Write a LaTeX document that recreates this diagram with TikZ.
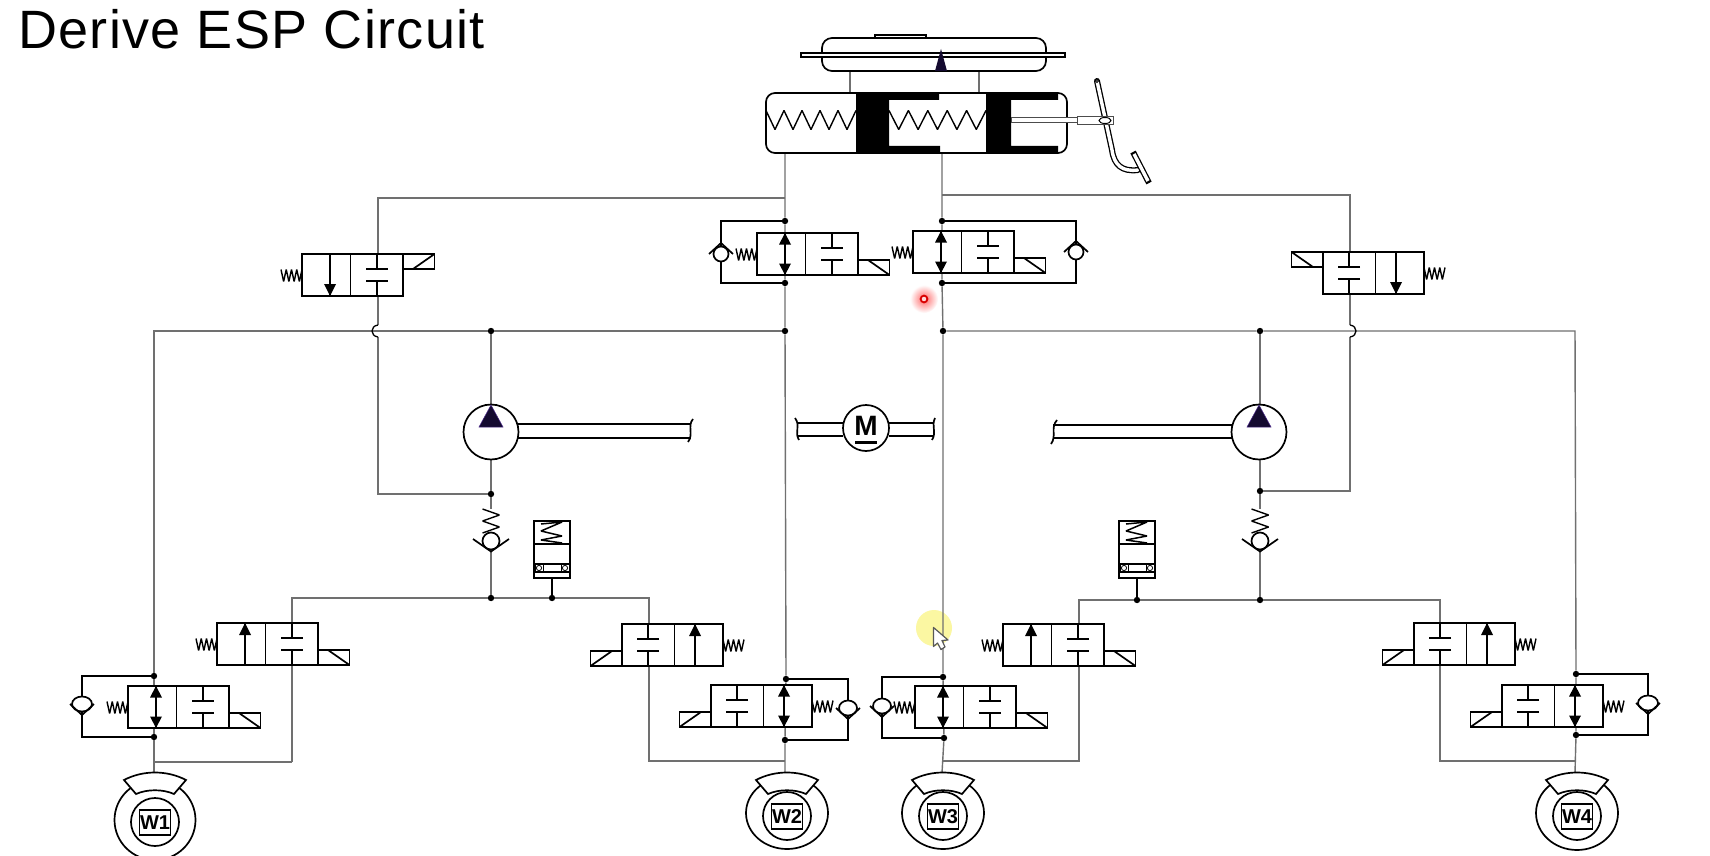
\documentclass[tikz,border=0pt]{standalone}
\usepackage{fontspec}
\setmainfont{Liberation Sans}
\newfontfamily\titlefont[LetterSpace=2.4]{Liberation Sans}
\definecolor{pipegrey}{HTML}{707070}
\definecolor{tipdark}{HTML}{140A30}
\definecolor{tipedge}{HTML}{4B2A8A}
\definecolor{hiyellow}{HTML}{FBF7A2}
\tikzset{
  pipe/.style={draw=pipegrey,line width=1.4pt},
  sym/.style={draw=black,line width=1.7pt,line join=miter},
  symfill/.style={sym,fill=white},
  coil/.style={draw=black,line width=1.4pt,line join=bevel},
  dot/.style={circle,fill=black,draw=none,inner sep=0pt,minimum size=6.4pt},
  wlabel/.style={font=\bfseries\fontsize{20}{20}\selectfont,inner sep=0pt},
}
% zigzag along x, from #1 to #2 in #3 segments, centre #4, amplitude #5
\newcommand{\zigx}[5]{\draw[coil] ({#1},{(#4)-(#5)})
  \foreach \i in {1,...,#3}{ -- ({(#1)+\i*((#2)-(#1))/#3},{(#4)-(#5)*pow(-1,\i)}) };}
% zigzag along y, from #1 to #2 in #3 segments, centre #4, amplitude #5
\newcommand{\zigy}[5]{\draw[coil] ({(#4)-(#5)},{#1})
  \foreach \i in {1,...,#3}{ -- ({(#4)-(#5)*pow(-1,\i)},{(#1)+\i*((#2)-(#1))/#3}) };}
% valve: #1 x, #2 y (spring-side top corner), #3 side (+1/-1), #4 arrow 0 down 1 up 2 both, #5 solenoid y offset
\newcommand{\valve}[5]{%
\begin{scope}[shift={(#1,#2)},xscale=#3]
  \draw[symfill] (0,0) rectangle (101,42);
  \draw[sym] (48.5,0) -- (48.5,42);
  \draw[sym] (75,0) -- (75,15) (64,15) -- (86,15) (64,27) -- (86,27) (75,27) -- (75,42);
  \draw[sym] (28,0) -- (28,42);
  \ifcase#4\relax
    \fill[black] (28,42) -- (22,30) -- (34,30) -- cycle;
  \or
    \fill[black] (28,0) -- (22,12) -- (34,12) -- cycle;
  \else
    \fill[black] (28,42) -- (22,30.5) -- (34,30.5) -- cycle;
    \fill[black] (28,0) -- (22,11.5) -- (34,11.5) -- cycle;
  \fi
  \draw[symfill] (101,#5) rectangle (132.5,#5+15);
  \ifnum#5=0
    \draw[sym] (111,15) -- (132.5,0);
  \else
    \draw[sym] (111,#5) -- (132.5,#5+15);
  \fi
  \zigx{0}{-21}{8}{21.5}{6}
\end{scope}}
% check valve across a vertical pipe: #1 x, #2 y, #3 -1 wings above, +1 wings below, #4 half width
\newcommand{\chk}[4]{%
  \draw[symfill] (#1,#2) ellipse ({#4} and 7.5);
  \draw[sym] (#1-12,#2) -- (#1,#2+#3*11) -- (#1+12,#2);}
% spring loaded check valve
\newcommand{\spchk}[2]{%
  \zigy{#2-32}{#2-8}{4}{#1}{8.5}
  \draw[sym,draw=black,fill=white] (#1,#2) circle (8.5);
  \draw[sym] (#1-18,#2-2) -- (#1,#2+10.5) -- (#1+18,#2-2);}
% accumulator
\newcommand{\accum}[2]{%
\begin{scope}[shift={(#1,#2)}]
  \draw[symfill] (0,0) rectangle (36,57);
  \draw[sym] (0,23) -- (36,23);
  \draw[sym] (0,43) -- (36,43) (0,51) -- (36,51);
  \draw[coil,line width=1.5pt] (7,3) -- (28,1) -- (7,10) -- (28,15) -- (7,19) -- (28,22);
  \draw[black,line width=.8pt] (5,47) circle (2.6) (31,47) circle (2.6);
  \draw[black,line width=.8pt] (1,43.5) rectangle (9,50.5) (27,43.5) rectangle (35,50.5);
\end{scope}}
% pump
\newcommand{\pump}[2]{%
  \draw[symfill] (#1,#2) circle (27.5);
  \fill[tipdark,draw=tipedge,line width=.5pt] (#1,#2-27) -- (#1-12,#2-5) -- (#1+12,#2-5) -- cycle;}
% wheel: #1 name, #2 cx, #3 outer cy, #4 rx, #5 ry, #6 inner cy, #7 label
\newcommand{\wheel}[7]{%
  \draw[symfill] (#2,#3) ellipse ({#4} and {#5});
  \draw[symfill] (#2,#6) circle (24);
  \draw[sym,line width=1.4pt] (#2-15.5,#6-12) rectangle (#2+15.5,#6+13);
  \node[wlabel] (#1) at (#2,#6+1) {#7};
  \draw[symfill] (#2-31,780) .. controls (#2-12,770) and (#2+12,770) .. (#2+31,780)
     -- (#2+19,794) .. controls (#2+8,789) and (#2-8,789) .. (#2-19,794) -- cycle;}
\begin{document}
\begin{tikzpicture}[x=1pt,y=-1pt]
\useasboundingbox (0,0) rectangle (1710,856);
\fill[white] (0,0) rectangle (1710,856);

\node[anchor=base west,inner sep=0pt,text=black,font=\titlefont\fontsize{54}{54}\selectfont] (title) at (18,49) {Derive ESP Circuit};

% highlight under the pipe
\fill[hiyellow] (934,628) circle (18);

% junctions
\node[dot] (L1) at (785,221) {};
\node[dot] (L2) at (785,283) {};
\node[dot] (L3) at (785,331) {};
\node[dot] (L4) at (786,679) {};
\node[dot] (L5) at (785,740) {};
\node[dot] (R1) at (942,221) {};
\node[dot] (R2) at (942,283) {};
\node[dot] (R3) at (943,331) {};
\node[dot] (R4) at (943,677) {};
\node[dot] (R5) at (944,738) {};
\node[dot] (P1) at (491,331) {};
\node[dot] (P2) at (491,494) {};
\node[dot] (P3) at (491,598) {};
\node[dot] (P4) at (552,598) {};
\node[dot] (Q1) at (1260,331) {};
\node[dot] (Q2) at (1260,491) {};
\node[dot] (Q3) at (1260,600) {};
\node[dot] (Q4) at (1137,600) {};
\node[dot] (A1) at (154,676) {};
\node[dot] (A2) at (154,737) {};
\node[dot] (B1) at (1576,674) {};
\node[dot] (B2) at (1576,735) {};

% named free ends and corners
\coordinate (mcL) at (785,153);
\coordinate (mcR) at (942,153);
\coordinate (tL) at (785,198);
\coordinate (tLc) at (378,198);
\coordinate (tR) at (942,195);
\coordinate (tRc) at (1350,195);
\coordinate (hLa) at (378,325);
\coordinate (hLb) at (378,337);
\coordinate (hLc) at (378,494);
\coordinate (hRa) at (1350,325);
\coordinate (hRb) at (1350,337);
\coordinate (hRc) at (1350,491);
\coordinate (cL) at (154,331);
\coordinate (cR) at (1575,331);
\coordinate (w1) at (154,773);
\coordinate (w2) at (785,773);
\coordinate (w3) at (942,773);
\coordinate (w4) at (1575,773);
\coordinate (iL1) at (292,598);
\coordinate (iL2) at (292,762);
\coordinate (iL3) at (154,762);
\coordinate (iM1) at (649,598);
\coordinate (iM2) at (649,761);
\coordinate (iM3) at (785,761);
\coordinate (iN1) at (1079,600);
\coordinate (iN2) at (1079,761);
\coordinate (iN3) at (942,761);
\coordinate (iR1) at (1440,600);
\coordinate (iR2) at (1440,761);
\coordinate (iR3) at (1575,761);
\coordinate (rvA) at (850,71);
\coordinate (rvAb) at (850,93);
\coordinate (rvB) at (979,71);
\coordinate (rvBb) at (979,93);
\coordinate (cb1) at (721,254);
\coordinate (cb2) at (1076,252);
\coordinate (cb3) at (82,704);
\coordinate (cb4) at (848,708);
\coordinate (cb5) at (882,706);
\coordinate (cb6) at (1648,703);
\coordinate (sp1) at (491,509);
\coordinate (sp2) at (491,551);
\coordinate (sp3) at (1260,509);
\coordinate (sp4) at (1260,551);
\coordinate (ac1) at (552,577);
\coordinate (ac2) at (1137,578);

% pipes
\draw[pipe] (mcL) -- (L1) -- (L2) -- (L3) -- (L4) -- (L5) -- (w2);
\draw[pipe] (mcR) -- (R1) -- (R2) -- (R3) -- (R4) -- (R5) -- (w3);
\draw[pipe] (tL) -- (tLc) -- (hLa);
\draw[pipe] (hLb) -- (hLc) -- (P2);
\draw[pipe] (tR) -- (tRc) -- (hRa);
\draw[pipe] (hRb) -- (hRc) -- (Q2);
\draw[pipe] (L3) -- (P1) -- (cL) -- (A1) -- (A2) -- (w1);
\draw[pipe] (R3) -- (Q1) -- (cR) -- (B1);
\draw[pipe] (B1) -- (B2) -- (w4);
\draw[pipe] (P1) -- (P2) -- (sp1);
\draw[pipe] (sp2) -- (P3);
\draw[pipe] (Q1) -- (Q2) -- (sp3);
\draw[pipe] (sp4) -- (Q3);
\draw[pipe] (iL2) -- (iL1) -- (P3) -- (P4) -- (iM1) -- (iM2) -- (iM3);
\draw[pipe] (iL2) -- (iL3);
\draw[pipe] (iN3) -- (iN2) -- (iN1) -- (Q4) -- (Q3) -- (iR1) -- (iR2) -- (iR3);
\draw[pipe] (rvA) -- (rvAb);
\draw[pipe] (rvB) -- (rvBb);
% line jumps
\draw[sym,line width=1.3pt] (hLa) .. controls (370,326) and (370,336) .. (hLb);
\draw[sym,line width=1.3pt] (hRa) .. controls (1358,326) and (1358,336) .. (hRb);

% by-pass loops
\draw[sym] (L1) -| (cb1) |- (L2);
\draw[sym] (R1) -| (cb2) |- (R2);
\draw[sym] (A1) -| (cb3) |- (A2);
\draw[sym] (L4) -| (cb4) |- (L5);
\draw[sym] (R4) -| (cb5) |- (R5);
\draw[sym] (B1) -| (cb6) |- (B2);
\chk{721}{254}{-1}{7.5}
\chk{1076}{252}{-1}{7.5}
\chk{82}{704}{1}{10}
\chk{848}{708}{1}{9}
\chk{882}{706}{1}{9}
\chk{1648}{703}{1}{10}
\draw[sym] (P4) -- (ac1);
\draw[sym] (Q4) -- (ac2);

% valves
\valve{302}{254}{1}{0}{0}
\valve{757}{233}{1}{2}{27}
\valve{913}{231}{1}{2}{27}
\valve{1424}{252}{-1}{0}{0}
\valve{217}{623}{1}{1}{27}
\valve{128}{686}{1}{2}{27}
\valve{723}{624}{-1}{1}{27}
\valve{812}{685}{-1}{2}{27}
\valve{915}{686}{1}{2}{27}
\valve{1003}{624}{1}{1}{27}
\valve{1515}{623}{-1}{1}{27}
\valve{1603}{685}{-1}{2}{27}

% pumps and motor
\draw[sym,line width=1.8pt] (518,424) -- (691,424) (518,438) -- (691,438);
\draw[sym] (693,419) .. controls (687,426) and (694,434) .. (688,442);
\pump{491}{432}
\draw[sym,line width=1.8pt] (1053,425) -- (1232,425) (1053,438) -- (1232,438);
\draw[sym] (1057,420) .. controls (1050,428) and (1057,436) .. (1051,444);
\pump{1259}{432}
\draw[sym,line width=1.8pt] (797,423) -- (843,423) (797,436) -- (843,436);
\draw[sym] (795,418) .. controls (801,426) and (794,432) .. (799,440);
\draw[sym,line width=1.8pt] (889,423) -- (934,423) (889,436) -- (934,436);
\draw[sym] (935,418) .. controls (931,426) and (937,432) .. (932,440);
\draw[symfill] (866,428) circle (23);
\node[inner sep=0pt,font=\bfseries\fontsize{28}{28}\selectfont] (motor) at (866,426) {M};
\fill[black] (855,441) rectangle (877,443.5);

% non-return valves and accumulators
\spchk{491}{541}
\spchk{1260}{541}
\accum{534}{521}
\accum{1119}{521}

% wheels
\wheel{W1}{155}{820}{40.5}{40}{822}{W1}
\wheel{W2}{787}{813}{41}{36}{816}{W2}
\wheel{W3}{943}{813}{41}{36}{816}{W3}
\wheel{W4}{1577}{813}{41}{37}{816}{W4}

% reservoir
\draw[symfill] (875,38) -- (875,35) -- (926,35) -- (926,38);
\draw[symfill,rounded corners=10pt] (822,71) -- (822,38) -- (1046,38) -- (1046,71) -- cycle;
\draw[draw=black,fill=white,line width=1.1pt] (801,53) rectangle (1065,57);
\fill[tipdark] (941,49) -- (935,71) -- (947,71) -- cycle;

% master cylinder
\draw[symfill,rounded corners=9pt] (766,93) rectangle (1067,153);
\fill[black] (856,93) -- (939,93) -- (939,100) -- (889,100) -- (889,146) -- (940,146) -- (940,153) -- (856,153) -- cycle;
\fill[black] (986,93) -- (1058,93) -- (1058,100) -- (1011,100) -- (1011,146) -- (1058,146) -- (1058,153) -- (986,153) -- cycle;
\zigx{766}{856}{10}{120}{9.5}
\zigx{889}{986}{10}{120}{9.5}

% pedal
\draw[black,line width=6pt,line cap=round,line join=round] (1097,81) -- (1112,150) .. controls (1114,165) and (1122,172) .. (1138,170);
\draw[white,line width=3.4pt,line cap=round,line join=round] (1097,81) -- (1112,150) .. controls (1114,165) and (1122,172) .. (1138,170);
\draw[black,line width=6pt] (1133,152) -- (1149,183);
\draw[white,line width=3.4pt] (1134,154) -- (1148,181);
\draw[black,line width=.8pt] (1097,81) circle (1.5);
\draw[draw=black!70,fill=white,line width=1pt] (1011,118) rectangle (1077,123);
\draw[draw=black!70,fill=white,line width=1pt] (1077,117) rectangle (1113,125);
\draw[draw=black,fill=white,line width=1pt] (1105,120.5) ellipse (6 and 3);

% pointer marks
\shade[inner color=red!60,outer color=white] (924,299) circle (14);
\draw[draw=red!85!black,fill=red!15,line width=1.8pt] (924,299) circle (3.4);
\draw[draw=black!65,fill=white,line width=1.2pt,line join=round] (933.5,627.5) -- (948,640) -- (942,640.5) -- (945,647) -- (941,649.5) -- (937.5,643) -- (933.5,646.5) -- cycle;
\end{tikzpicture}
\end{document}
